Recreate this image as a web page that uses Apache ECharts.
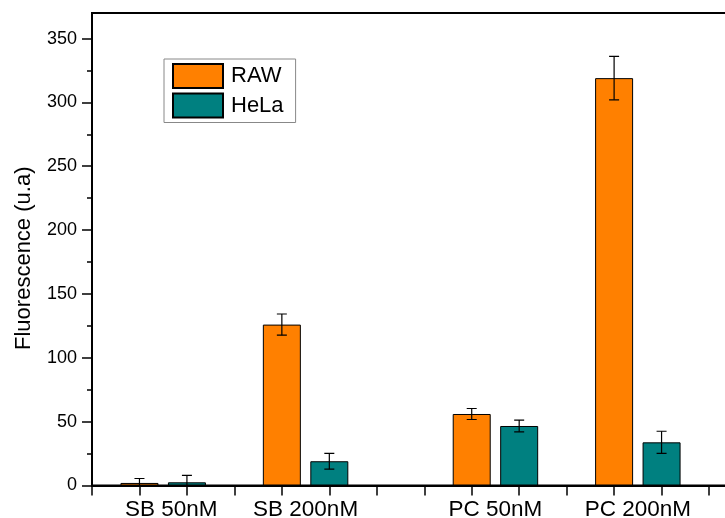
<!DOCTYPE html>
<html>
<head>
<meta charset="utf-8">
<script src="https://cdn.jsdelivr.net/npm/echarts@6/dist/echarts.min.js"></script>
<style>
html,body{margin:0;padding:0;background:#fff;}
#chart{width:725px;height:518px;}
</style>
</head>
<body>
<div id="chart"></div>
<script>
// ---- data ----
var categories = ['SB 50nM', 'SB 200nM', 'PC 50nM', 'PC 200nM'];
var rawX  = [1, 4, 8, 11];
var helaX = [2, 5, 9, 12];
var rawValues  = [2, 126, 56, 319];
var rawErrors  = [3.5, 8.3, 4.3, 17];
var helaValues = [2.5, 19, 46.6, 33.8];
var helaErrors = [5.5, 6.2, 4.6, 8.7];
var yTicks = [0, 50, 100, 150, 200, 250, 300, 350];
var yMinorTicks = [25, 75, 125, 175, 225, 275, 325];
var seriesNames = ['RAW', 'HeLa'];

// ---- build ----
var FONT = '"Liberation Sans", Arial, sans-serif';
var groupCenters = rawX.map(function (x, i) { return (x + helaX[i]) / 2; });

function pairs(xs, ys) { return xs.map(function (x, i) { return [x, ys[i]]; }); }
function errData(xs, ys, es) { return xs.map(function (x, i) { return [x, ys[i] - es[i], ys[i] + es[i]]; }); }

function errorRender(params, api) {
  var x = api.value(0);
  var lo = api.coord([x, api.value(1)]);
  var hi = api.coord([x, api.value(2)]);
  var cap = 5;
  var style = { stroke: '#000', lineWidth: 1.2 };
  return {
    type: 'group',
    children: [
      { type: 'line', shape: { x1: hi[0], y1: hi[1], x2: lo[0], y2: lo[1] }, style: style },
      { type: 'line', shape: { x1: hi[0] - cap, y1: hi[1], x2: hi[0] + cap, y2: hi[1] }, style: style },
      { type: 'line', shape: { x1: lo[0] - cap, y1: lo[1], x2: lo[0] + cap, y2: lo[1] }, style: style }
    ]
  };
}

var chart = echarts.init(document.getElementById('chart'));
chart.setOption({
  animation: false,
  backgroundColor: '#fff',
  textStyle: { fontFamily: FONT, color: '#000' },
  grid: {
    left: 92, top: 13, width: 664.5, height: 472.5,
    outerBoundsMode: 'none', containLabel: false,
    show: true, borderColor: '#000', borderWidth: 2, backgroundColor: 'transparent'
  },
  legend: {
    orient: 'vertical',
    left: 164, top: 59,
    data: seriesNames,
    icon: 'rect',
    itemWidth: 50, itemHeight: 24, itemGap: 3.5,
    padding: [4, 12, 4, 8],
    borderColor: '#888', borderWidth: 1,
    textStyle: { fontSize: 22, color: '#000', fontFamily: FONT, padding: [0, 0, 0, 3] }
  },
  xAxis: [{
    type: 'value', min: 0, max: 14, interval: 1,
    axisLine: { show: true, onZero: false, lineStyle: { color: '#000', width: 2 } },
    axisTick: { show: true, inside: false, length: 10, lineStyle: { color: '#000', width: 1.5 } },
    splitLine: { show: false },
    axisLabel: {
      customValues: groupCenters,
      fontSize: 22.5, color: '#000', fontFamily: FONT, margin: 13,
      formatter: function (v) {
        var i = groupCenters.indexOf(v);
        if (i < 0) return '';
        return i === 0 ? '{first|' + categories[i] + '}' : categories[i];
      },
      rich: {
        first: { fontSize: 22.5, color: '#000', fontFamily: FONT, padding: [0, 0, 0, 16] }
      }
    }
  }],
  yAxis: [{
    type: 'value', min: 0, max: 370, interval: 50,
    name: 'Fluorescence (u.a)', nameLocation: 'middle', nameGap: 57,
    nameTextStyle: { fontSize: 22, color: '#000', fontFamily: FONT, padding: [0, 18, 0, 0] },
    axisLine: { show: true, onZero: false, lineStyle: { color: '#000', width: 2 } },
    axisTick: { show: true, inside: false, length: 10, customValues: yTicks, lineStyle: { color: '#000', width: 1.5 } },
    axisLabel: { customValues: yTicks, fontSize: 18, color: '#000', fontFamily: FONT, margin: 15 },
    splitLine: { show: false }
  }, {
    type: 'value', min: 0, max: 370, position: 'left',
    axisLine: { show: false },
    axisTick: { show: true, inside: false, length: 5, customValues: yMinorTicks, lineStyle: { color: '#000', width: 1.5 } },
    axisLabel: { show: false },
    splitLine: { show: false }
  }],
  series: [{
    name: seriesNames[0], type: 'bar', barWidth: 38, barGap: '-100%',
    itemStyle: { color: '#FF8000', borderColor: '#000', borderWidth: 1 },
    data: pairs(rawX, rawValues), z: 2
  }, {
    name: seriesNames[1], type: 'bar', barWidth: 38, barGap: '-100%',
    itemStyle: { color: '#008080', borderColor: '#000', borderWidth: 1 },
    data: pairs(helaX, helaValues), z: 2
  }, {
    name: 'RAW err', type: 'custom', renderItem: errorRender, clip: true, z: 5,
    encode: { x: 0, y: [1, 2] },
    data: errData(rawX, rawValues, rawErrors)
  }, {
    name: 'HeLa err', type: 'custom', renderItem: errorRender, clip: true, z: 5,
    encode: { x: 0, y: [1, 2] },
    data: errData(helaX, helaValues, helaErrors)
  }]
});
</script>
</body>
</html>
